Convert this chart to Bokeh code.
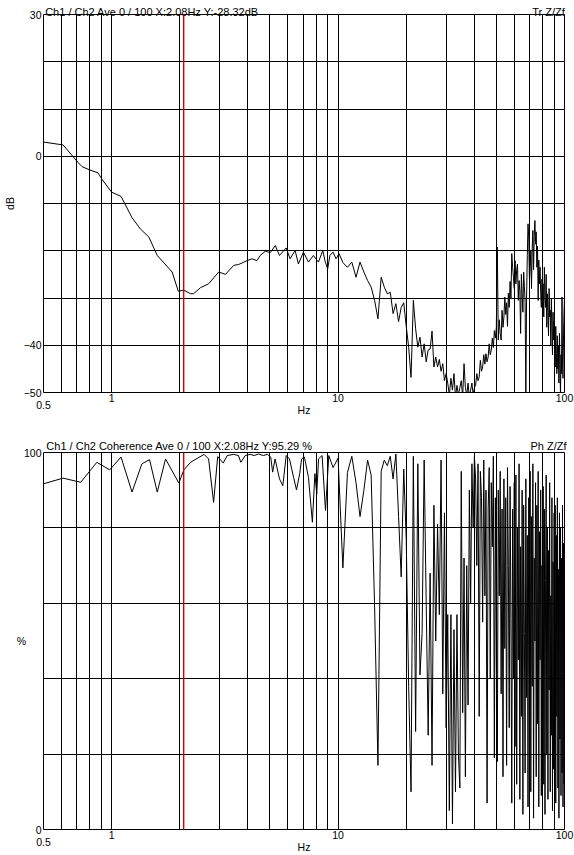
import numpy as np
from bokeh.plotting import figure
from bokeh.models import Span, FixedTicker, ColumnDataSource, BasicTickFormatter, LogAxis
from bokeh.layouts import column
from bokeh.embed import file_html
from bokeh.resources import INLINE

# ---------------- data ----------------
TR_LOW_HZ = [0.5, 0.61, 0.71, 0.74, 0.8, 0.87, 0.91, 1.0, 1.1, 1.23,
             1.34, 1.46, 1.59, 1.85, 1.97, 2.08, 2.23, 2.3, 2.47, 2.68,
             2.97, 3.18, 3.46, 3.64, 3.96, 4.17, 4.38, 4.53, 4.77, 5.02,
             5.28, 5.51, 5.9, 6.14, 6.46, 6.68, 7.03, 7.4, 7.78, 8.19,
             8.56, 8.78, 9.0, 9.2, 9.5, 9.8, 10.1]
TR_LOW_DB = [3.0, 2.4, -1.3, -2.2, -2.9, -3.5, -5.0, -7.6, -8.5, -13.0,
             -15.4, -17.1, -21.0, -24.5, -28.6, -28.32, -29.1, -29.1, -27.8, -27.0,
             -24.5, -25.0, -23.1, -22.9, -22.1, -21.7, -22.1, -21.0, -20.1, -20.4,
             -18.9, -21.0, -19.4, -21.7, -19.95, -22.8, -20.3, -22.4, -21.0, -22.4,
             -19.95, -22.4, -23.8, -21.0, -20.3, -21.7, -20.6]

BIN_HZ = [10.5, 11, 11.5, 12, 12.5, 13, 13.5, 14, 14.5, 15, 15.5, 16, 16.5, 17, 17.5, 18, 18.5, 19, 19.5, 20,
          20.5, 21, 21.5, 22, 22.5, 23, 23.5, 24, 24.5, 25, 25.5, 26, 26.5, 27, 27.5, 28, 28.5, 29, 29.5, 30,
          30.5, 31, 31.5, 32, 32.5, 33, 33.5, 34, 34.5, 35, 35.5, 36, 36.5, 37, 37.5, 38, 38.5, 39, 39.5, 40,
          40.5, 41, 41.5, 42, 42.5, 43, 43.5, 44, 44.5, 45, 45.5, 46, 46.5, 47, 47.5, 48, 48.5, 49, 49.5, 50,
          50.5, 51, 51.5, 52, 52.5, 53, 53.5, 54, 54.5, 55, 55.5, 56, 56.5, 57, 57.5, 58, 58.5, 59, 59.5, 60,
          60.5, 61, 61.5, 62, 62.5, 63, 63.5, 64, 64.5, 65, 65.5, 66, 66.5, 67, 67.5, 68, 68.5, 69, 69.5, 70,
          70.5, 71, 71.5, 72, 72.5, 73, 73.5, 74, 74.5, 75, 75.5, 76, 76.5, 77, 77.5, 78, 78.5, 79, 79.5, 80,
          80.5, 81, 81.5, 82, 82.5, 83, 83.5, 84, 84.5, 85, 85.5, 86, 86.5, 87, 87.5, 88, 88.5, 89, 89.5, 90,
          90.5, 91, 91.5, 92, 92.5, 93, 93.5, 94, 94.5, 95, 95.5, 96, 96.5, 97, 97.5, 98, 98.5, 99, 99.5, 100]

TR_HIGH_DB = [
    -22.5, -23.5, -22.4, -25.6, -22.4, -24.5, -26.3, -27.7, -30.5, -34.4, -25.6, -27.7, -29.1, -28.8, -33.3, -31.2, -35.0, -32.0, -31.0, -36.0,
    -40.4, -46.8, -30.5, -36.5, -40.4, -38.3, -42.5, -39.7, -43.5, -41.0, -40.8, -37.0, -44.6, -42.5, -44.6, -43.0, -45.5, -43.9, -47.5, -46.0,
    -48.0, -50.5, -47.0, -49.5, -46.0, -51.0, -48.5, -50.5, -49.0, -47.5, -51.0, -43.9, -49.0, -50.5, -48.0, -51.0, -49.5, -48.0, -50.5, -49.0,
    -48.5, -46.0, -47.5, -46.7, -43.2, -45.5, -44.6, -42.0, -44.0, -41.8, -43.5, -42.5, -39.7, -42.0, -41.1, -38.5, -40.5, -36.9, -38.5, -36.2,
    -19.2, -38.9, -34.6, -37.5, -38.9, -32.6, -36.2, -34.0, -29.8, -33.5, -31.0, -36.0, -29.0, -32.0, -26.5, -30.0, -20.6, -23.5, -25.6, -28.0,
    -22.1, -27.0, -24.0, -22.8, -30.5, -26.3, -28.5, -37.5, -25.0, -29.1, -33.0, -24.5, -27.5, -31.0, -50.5, -30.0, -21.0, -14.3, -17.1, -26.0,
    -23.5, -20.0, -28.0, -19.5, -15.7, -24.0, -17.0, -13.6, -18.6, -16.0, -23.5, -19.0, -30.5, -22.0, -27.0, -23.5, -29.0, -32.0, -26.0, -29.1,
    -27.0, -34.0, -23.5, -29.8, -32.0, -25.0, -36.2, -29.1, -33.0, -38.0, -28.0, -34.0, -32.6, -40.0, -30.0, -36.0, -42.0, -33.0, -38.9, -35.0,
    -37.5, -44.6, -36.0, -41.8, -46.0, -38.0, -45.0, -40.0, -48.0, -37.5, -44.0, -50.5, -42.0, -46.0, -29.8, -44.0, -47.0, -38.0, -33.0, -30.0]

COH_LOW_HZ = [0.5, 0.61, 0.73, 0.86, 0.98, 1.1, 1.23, 1.36, 1.47, 1.59,
              1.73, 1.98, 2.08, 2.23, 2.56, 2.68, 2.82, 2.94, 3.11, 3.24,
              3.46, 3.63, 3.72, 3.89, 4.09, 4.26, 4.45, 4.68, 4.87, 5.04,
              5.14, 5.27, 5.51, 5.7, 5.9, 6.1, 6.36, 6.55, 6.77, 6.9,
              7.1, 7.4, 7.7, 7.9, 8.05, 8.2, 8.5, 8.8, 9.1, 9.5, 10.0]
COH_LOW_PCT = [91.7, 93.2, 92.1, 97.4, 95.4, 98.8, 89.5, 97.0, 98.1, 89.5,
               98.3, 91.9, 95.29, 97.4, 99.5, 98.3, 86.8, 98.9, 97.2, 99.2,
               99.5, 99.2, 97.4, 99.2, 99.5, 99.2, 99.6, 99.2, 99.5, 98.8,
               94.8, 98.3, 93.0, 91.2, 99.2, 98.3, 93.4, 90.1, 94.4, 98.3,
               98.8, 93.4, 81.5, 94.4, 89.0, 98.3, 99.2, 84.6, 99.2, 96.0, 98.5]
COH_HIGH_PCT = [
    69.4, 94.7, 99.0, 92.0, 83.0, 90.0, 98.0, 94.0, 59.0, 17.0, 95.0, 98.0, 96.5, 99.0, 93.0, 99.6, 83.0, 67.0, 95.6, 77.0,
    38, 10, 99, 26, 97, 41, 52, 98, 60, 25, 68, 17, 86, 50, 81, 57, 98, 36, 84, 27,
    57, 5, 57, 1.5, 53, 10, 57, 20, 11, 95, 31, 72, 14, 70, 33, 90, 60, 97, 80, 99,
    93, 70, 97, 30, 95, 88, 55, 98, 62, 90, 7, 85, 96, 40, 92, 75, 99, 19, 88, 45,
    18, 90, 62, 95, 36, 85, 14, 93, 48, 88, 17, 96, 70, 27, 91, 56, 7, 85, 40, 92,
    22, 94, 12, 80, 45, 97, 8, 75, 30, 90, 4, 86, 52, 15, 93, 35, 78, 6, 88, 42,
    95, 10, 83, 38, 97, 3, 72, 50, 92, 14, 86, 28, 95, 6, 79, 45, 90, 9, 70, 33,
    91, 12, 85, 4, 66, 94, 20, 80, 8, 74, 37, 92, 10, 62, 25, 88, 5, 71, 16, 84,
    18, 86, 7, 78, 30, 88, 11, 69, 3, 84, 24, 80, 9, 72, 15, 86, 6, 76, 12, 83]

GRID_HZ = [0.6, 0.7, 0.8, 0.9, 1, 2, 3, 4, 5, 6, 7, 8, 9, 10, 20, 30, 40, 50, 60, 70, 80, 90]
X_TICKS = [1, 10, 100]
X_FIRST = [0.5]
TR_RANGE = (-50, 30)
TR_GRID = [-40, -30, -20, -10, 0, 10, 20]
TR_TICKS = [30, 0, -40, -50]
COH_RANGE = (0, 100)
COH_GRID = [20, 40, 60, 80]
COH_TICKS = [100, 0]
CURSOR_HZ = 2.08

TITLE_TR = ["Ch1 / Ch2  Ave 0 / 100  X:2.08Hz  Y:-28.32dB", "Tr Z/Zf"]
TITLE_TR_AT_HZ = [1.58, 85.0]
TITLE_COH = ["Ch1 / Ch2  Coherence Ave 0 / 100  X:2.08Hz  Y:95.29 %", "Ph Z/Zf"]
TITLE_COH_AT_HZ = [2.09, 85.0]

FONT = "Liberation Sans"
FS = "10.5px"
FS_TITLE = "11px"
RED = "#d40000"


def style_axis(ax, size=FS):
    ax.axis_line_color = None
    ax.major_tick_line_color = None
    ax.minor_tick_line_color = None
    ax.major_label_text_font = FONT
    ax.major_label_text_font_size = size
    ax.major_label_text_color = "black"
    ax.axis_label_text_font = FONT
    ax.axis_label_text_font_size = size
    ax.axis_label_text_font_style = "normal"
    ax.axis_label_text_color = "black"
    ax.formatter = BasicTickFormatter()


def panel(height, top, bottom, yrange, ygrid, yticks, hz, vals,
          titles, titles_at, title_standoff, ylabel, rotate, ylab_standoff):
    p = figure(width=574, height=height, x_axis_type="log", title=None,
               x_range=(0.5, 100), y_range=yrange,
               min_border_left=43, min_border_right=10,
               min_border_top=top, min_border_bottom=bottom,
               output_backend="svg", toolbar_location=None)
    p.background_fill_color = "white"
    p.border_fill_color = "white"
    p.outline_line_color = "black"
    p.outline_line_alpha = 1.0
    p.outline_line_width = 1

    p.xgrid.ticker = FixedTicker(ticks=GRID_HZ)
    p.ygrid.ticker = FixedTicker(ticks=ygrid)
    for g in (p.xgrid, p.ygrid):
        g.grid_line_color = "black"
        g.grid_line_alpha = 1.0
        g.grid_line_width = 1

    xa = p.xaxis[0]
    ya = p.yaxis[0]
    style_axis(xa)
    style_axis(ya)
    xa.ticker = FixedTicker(ticks=X_TICKS)
    xa.major_label_standoff = -5
    xa.axis_label = "Hz"
    xa.axis_label_standoff = -1
    ya.ticker = FixedTicker(ticks=yticks)
    ya.major_label_standoff = -4
    ya.axis_label = ylabel
    ya.axis_label_standoff = ylab_standoff
    if not rotate:
        ya.axis_label_orientation = "horizontal"

    # lowest frequency label sits a little lower than the others
    xa2 = LogAxis(ticker=FixedTicker(ticks=X_FIRST))
    style_axis(xa2)
    xa2.major_label_standoff = -24
    p.add_layout(xa2, "below")

    # header texts (left and right) on a top axis without lines
    ta = LogAxis(ticker=FixedTicker(ticks=titles_at))
    style_axis(ta, FS_TITLE)
    ta.major_label_overrides = {titles_at[0]: titles[0], titles_at[1]: titles[1]}
    ta.major_label_standoff = title_standoff
    p.add_layout(ta, "above")

    src = ColumnDataSource(dict(x=hz, y=vals))
    p.line("x", "y", source=src, line_color="black", line_width=1)
    p.add_layout(Span(location=CURSOR_HZ, dimension="height", line_color=RED, line_width=1.4))
    return p


p1 = panel(430, 14, 38, TR_RANGE, TR_GRID, TR_TICKS,
           TR_LOW_HZ + BIN_HZ, TR_LOW_DB + TR_HIGH_DB,
           TITLE_TR, TITLE_TR_AT_HZ, -9, "dB", True, 5)
p2 = panel(425, 22, 26, COH_RANGE, COH_GRID, COH_TICKS,
           COH_LOW_HZ + BIN_HZ, COH_LOW_PCT + COH_HIGH_PCT,
           TITLE_COH, TITLE_COH_AT_HZ, -5, "%", False, -5)

layout = column(p1, p2, spacing=0)
open("out.html", "w").write(file_html(layout, INLINE))
